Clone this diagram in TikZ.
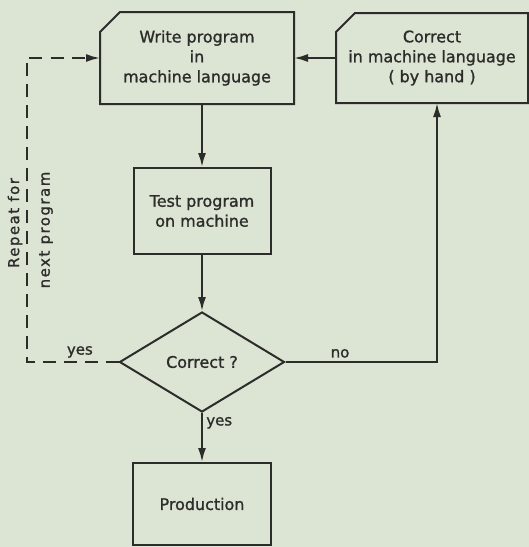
\documentclass[tikz,border=0pt]{standalone}
\usepackage{fontspec}
\setmainfont{DejaVu Sans}[RawFeature={embolden=1.2}]
\newfontfamily\widefont{DejaVu Sans}[LetterSpace=10, RawFeature={embolden=1.2}]
\usetikzlibrary{shapes.geometric, arrows.meta, positioning}
\definecolor{paper}{RGB}{220,228,212}
\definecolor{ink}{RGB}{44,44,42}
\tikzstyle{block} = [draw=ink, line width=2bp, rectangle, align=center, text=ink, font=\fontsize{16}{20}\selectfont]
\tikzstyle{hand} = [block, draw=none]
\tikzstyle{tag} = [text=ink, font=\fontsize{15}{18}\selectfont]

\begin{document}
\begin{tikzpicture}[>={Latex[length=14bp,width=8bp]}, line width=2bp, color=ink]
  \fill[paper] (0,0) rectangle (529bp,-547bp);
  \useasboundingbox (0,0) rectangle (529bp,-547bp);

  \node[hand, minimum width=192bp, minimum height=90bp] (write) at (197bp,-58bp) {Write program\\in\\machine language};
  \node[hand, right of=write, node distance=235bp, minimum width=190bp, minimum height=88bp] (fix) {Correct\\in machine language\\( by hand )};
  \node[block, minimum width=137bp, minimum height=86bp] (test) at (202bp,-211bp) {Test program\\on machine};
  \node[block, diamond, below of=test, node distance=151bp, minimum width=165bp, minimum height=100bp, inner sep=0pt] (ok) {Correct ?};
  \node[block, below of=ok, node distance=142bp, minimum width=138bp, minimum height=82bp] (prod) {Production};

  % boxes with the cut corner
  \draw ([yshift=-20bp]write.north west) -- ([xshift=20bp]write.north west) -- (write.north east) -- (write.south east) -- (write.south west) -- cycle;
  \draw ([yshift=-19bp]fix.north west) -- ([xshift=19bp]fix.north west) -- (fix.north east) -- (fix.south east) -- (fix.south west) -- cycle;

  \node[tag, font=\fontsize{15}{18}\widefont, rotate=90] (rep) at (15bp,-223bp) {Repeat for};
  \node[tag, font=\fontsize{15}{18}\widefont, rotate=90] (nxt) at (46bp,-230bp) {next program};

  \draw[->] (write.south -| test.north) -- (test.north);
  \draw[->] (test) -- (ok);
  \draw[->] (ok) -- node[tag, right, pos=0.2] {yes} (prod);
  \draw[->] (ok.east) -| node[tag, above, pos=0.18] {no} ([xshift=5bp]fix.south);
  \draw[->] (fix.west) -- (write.east);
  \draw[->, dash pattern=on 13bp off 8bp] (ok.west) -- node[tag, above, pos=0.42] {yes} ++(-92bp,0) |- (write.west);
\end{tikzpicture}
\end{document}
